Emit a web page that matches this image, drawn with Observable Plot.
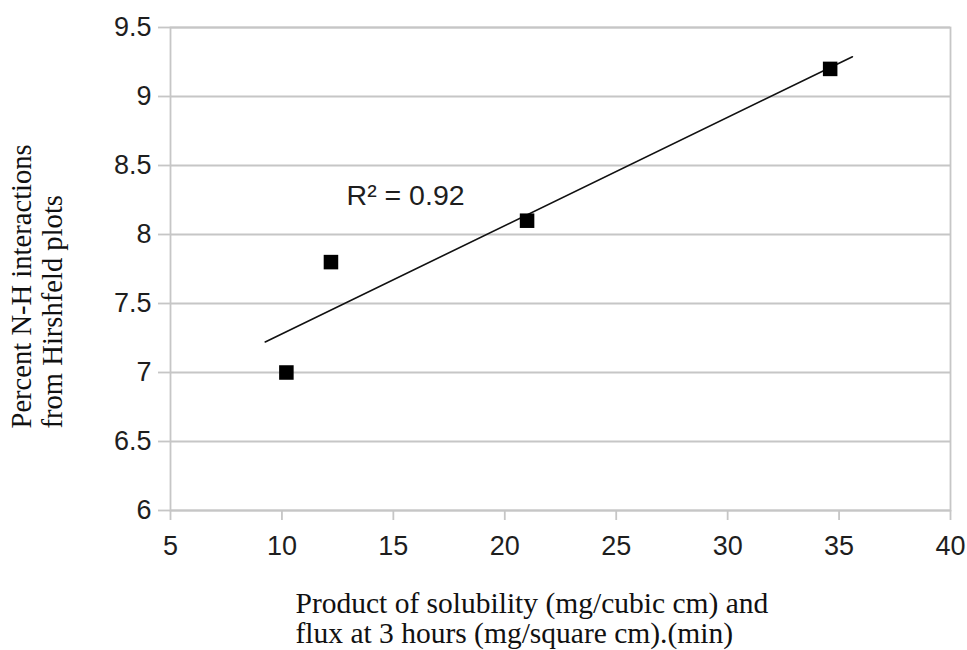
<!DOCTYPE html>
<html>
<head>
<meta charset="utf-8">
<script src="https://cdn.jsdelivr.net/npm/d3@7"></script>
<script src="https://cdn.jsdelivr.net/npm/@observablehq/plot@0.6"></script>
<style>
  html, body { margin: 0; padding: 0; background: #ffffff; }
  #chart { width: 967px; height: 650px; }
</style>
</head>
<body>
<div id="chart"></div>
<script>
// ---- data ----
const solubilityFlux = [10.2, 12.2, 21.0, 34.6];   // x values
const nhPercent      = [7.0, 7.8, 8.1, 9.2];       // y values
const xTicks = [5, 10, 15, 20, 25, 30, 35, 40];
const yTicks = [6, 6.5, 7, 7.5, 8, 8.5, 9, 9.5];
const yTickLabels = ["6", "6.5", "7", "7.5", "8", "8.5", "9", "9.5"];
const trendRange = [9.25, 35.6];                   // x extent of the drawn trend line
const annotationAt = [12.9, 8.28];                 // where "R² = …" sits (data units)
const xTitle = "Product of solubility (mg/cubic cm) and\nflux at 3 hours (mg/square cm).(min)";
const yTitle = "Percent N-H interactions\nfrom Hirshfeld plots";

// ---- build table & least-squares fit ----
const points = solubilityFlux.map((x, i) => ({x, y: nhPercent[i]}));
const mx = d3.mean(solubilityFlux), my = d3.mean(nhPercent);
const sxy = d3.sum(points, p => (p.x - mx) * (p.y - my));
const sxx = d3.sum(points, p => (p.x - mx) ** 2);
const syy = d3.sum(points, p => (p.y - my) ** 2);
const slope = sxy / sxx, intercept = my - slope * mx;
const r2 = (sxy * sxy) / (sxx * syy);
const trend = trendRange.map(x => ({x, y: intercept + slope * x}));
const annotation = [{x: annotationAt[0], y: annotationAt[1], label: `R² = ${r2.toFixed(2)}`}];

const gridColor = "#c6c6c6";
const textColor = "#1e1e1e";
const sans = "'Liberation Sans', Arial, sans-serif";
const serif = "'Liberation Serif', 'Times New Roman', serif";

const chart = Plot.plot({
  width: 967,
  height: 650,
  marginLeft: 170,
  marginRight: 17,
  marginTop: 27,
  marginBottom: 140,
  style: {background: "#ffffff", fontFamily: sans, fontSize: "27px", color: textColor},
  x: {domain: [5, 40], ticks: xTicks, label: null},
  y: {domain: [6, 9.5], ticks: yTicks, label: null},
  marks: [
    Plot.gridY(yTicks, {stroke: gridColor, strokeOpacity: 1, strokeWidth: 1.8}),
    Plot.frame({stroke: gridColor, strokeWidth: 1.8}),
    Plot.axisY(yTicks, {
      tickSize: 12, tickPadding: 7, stroke: gridColor, strokeWidth: 1.8,
      fill: textColor, fontSize: 27, fontFamily: sans, label: null,
      tickFormat: (d, i) => yTickLabels[i]
    }),
    Plot.axisX(xTicks, {
      tickSize: 10, tickPadding: 15, stroke: gridColor, strokeWidth: 1.8,
      fill: textColor, fontSize: 27, fontFamily: sans, label: null
    }),
    Plot.line(trend, {x: "x", y: "y", stroke: "#111", strokeWidth: 1.6}),
    Plot.dot(points, {x: "x", y: "y", symbol: "square", r: 8.2, fill: "#000", stroke: "none"}),
    Plot.text(annotation, {x: "x", y: "y", text: "label", textAnchor: "start",
      fontSize: 28.5, fontFamily: sans, fill: textColor}),
    Plot.text([xTitle], {frameAnchor: "bottom", lineAnchor: "top", textAnchor: "start",
      dx: -265, dy: 81, fontSize: 29.5, lineHeight: 1.02, fontFamily: serif, fill: "#111"}),
    Plot.text([yTitle], {frameAnchor: "left", lineAnchor: "middle", textAnchor: "start", rotate: -90,
      dx: -134, dy: 159.5, fontSize: 28.6, lineHeight: 1.08, fontFamily: serif, fill: "#111"})
  ]
});
document.getElementById("chart").appendChild(chart);
</script>
</body>
</html>
